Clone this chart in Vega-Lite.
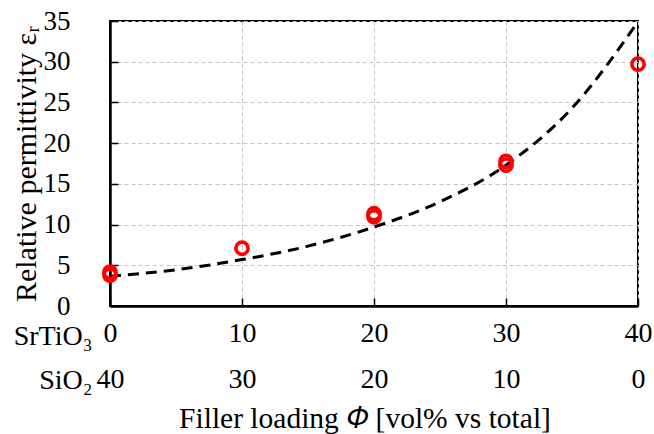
{
  "$schema": "https://vega.github.io/schema/vega-lite/v6.json",
  "width": 528,
  "height": 285,
  "autosize": {"type": "none"},
  "padding": {"left": 110, "top": 21, "right": 16, "bottom": 128},
  "background": "white",
  "config": {
    "font": "Liberation Serif",
    "view": {"stroke": "#000000", "strokeWidth": 2},
    "style": {"guide-label": {"font": "Liberation Serif"}, "guide-title": {"font": "Liberation Serif"}},
    "axis": {"labelFont": "Liberation Serif", "titleFont": "Liberation Serif", "labelColor": "#000", "titleColor": "#000", "titleFontWeight": "normal"}
  },
  "title": {
    "text": "Filler loading 𝛷 [vol% vs total]",
    "orient": "bottom",
    "anchor": "middle",
    "dx": -9,
    "offset": 11,
    "font": "Liberation Serif",
    "fontSize": 29.5,
    "fontWeight": "normal",
    "color": "#000"
  },
  "datasets": {
    "points": [
      {"phi": 0, "eps": 3.8},
      {"phi": 0, "eps": 4.15},
      {"phi": 10, "eps": 7.09},
      {"phi": 20, "eps": 10.96},
      {"phi": 20, "eps": 11.33},
      {"phi": 30, "eps": 17.3},
      {"phi": 30, "eps": 17.75},
      {"phi": 40, "eps": 29.7}
    ],
    "curve": [
      {"phi": 0, "eps": 3.65},
      {"phi": 5, "eps": 4.45},
      {"phi": 10, "eps": 5.7},
      {"phi": 15, "eps": 7.35},
      {"phi": 20, "eps": 9.7},
      {"phi": 25, "eps": 12.8},
      {"phi": 30, "eps": 17.3},
      {"phi": 35, "eps": 24.3},
      {"phi": 40, "eps": 34.9}
    ]
  },
  "resolve": {"axis": {"x": "independent"}},
  "layer": [
    {
      "data": {"name": "curve"},
      "mark": {"type": "line", "color": "#000", "strokeWidth": 3, "strokeDash": [11, 7], "interpolate": "monotone", "clip": true},
      "encoding": {
        "x": {
          "field": "phi", "type": "quantitative",
          "scale": {"domain": [0, 40], "nice": false},
          "axis": {
            "orient": "bottom",
            "values": [0, 10, 20, 30, 40],
            "labelExpr": "40 - datum.value",
            "grid": false, "ticks": false, "domain": false,
            "labelFont": "Liberation Serif",
            "labelFontSize": 28, "labelPadding": 59,
            "labelFlush": false, "labelOverlap": false,
            "title": "SiO₂",
            "titleFont": "Liberation Serif",
            "titleFontSize": 28,
            "titleX": -18, "titleY": 82,
            "titleAlign": "right", "titleBaseline": "alphabetic", "titleAngle": 0
          }
        },
        "y": {"field": "eps", "type": "quantitative", "scale": {"domain": [0, 35], "nice": false}}
      }
    },
    {
      "data": {"name": "points"},
      "mark": {"type": "point", "shape": "circle", "filled": false, "color": "#ff0000", "strokeWidth": 3.6, "size": 150, "opacity": 1},
      "encoding": {
        "x": {
          "field": "phi", "type": "quantitative",
          "scale": {"domain": [0, 40], "nice": false},
          "axis": {
            "orient": "bottom",
            "values": [0, 10, 20, 30, 40],
            "grid": true, "gridColor": "#c4c4c4", "gridDash": [4, 3], "gridWidth": 1,
            "ticks": true, "tickSize": -8, "tickColor": "#000", "tickWidth": 1.5,
            "domain": true, "domainColor": "#000", "domainWidth": 2.5,
            "labelFont": "Liberation Serif",
            "labelFontSize": 28, "labelPadding": 21,
            "labelFlush": false, "labelOverlap": false,
            "title": "SrTiO₃",
            "titleFont": "Liberation Serif",
            "titleFontSize": 28,
            "titleX": -18, "titleY": 38,
            "titleAlign": "right", "titleBaseline": "alphabetic", "titleAngle": 0
          }
        },
        "y": {
          "field": "eps", "type": "quantitative",
          "scale": {"domain": [0, 35], "nice": false},
          "axis": {
            "values": [0, 5, 10, 15, 20, 25, 30, 35],
            "grid": true, "gridColor": "#c4c4c4", "gridDash": [4, 3], "gridWidth": 1,
            "ticks": true, "tickSize": -8, "tickColor": "#000", "tickWidth": 1.5,
            "domain": true, "domainColor": "#000", "domainWidth": 2.5,
            "labelFont": "Liberation Serif",
            "labelFontSize": 27, "labelPadding": 48,
            "labelFlush": false, "labelOverlap": false,
            "title": "Relative permittivity εᵣ",
            "titleFont": "Liberation Serif",
            "titleFontSize": 30,
            "titlePadding": 2
          }
        }
      }
    }
  ]
}
